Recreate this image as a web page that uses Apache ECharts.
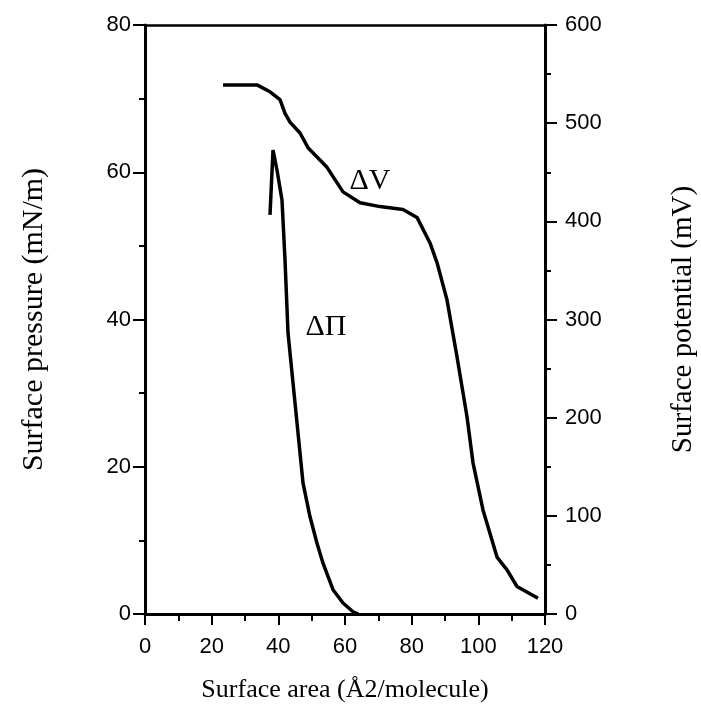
<!DOCTYPE html>
<html>
<head>
<meta charset="utf-8">
<script src="https://cdn.jsdelivr.net/npm/echarts@6/dist/echarts.min.js"></script>
<style>
  html, body { margin: 0; padding: 0; background: #fff; }
  #chart { width: 701px; height: 714px; }
</style>
</head>
<body>
<div id="chart"></div>
<script>
// surface potential ΔV (mV, right axis) vs area
var dvArea = [23.4, 33.6, 37.5, 40.5, 42.0, 43.5, 46.5, 48.9, 54.6, 59.4, 64.5, 70.5, 77.4, 81.6, 85.5, 87.6, 90.6, 93.6, 96.6, 98.4, 101.4, 105.6, 108.6, 111.6, 117.9];
var dvValue = [539, 539, 532, 524, 510, 501, 490, 475, 455, 430, 419, 415, 412, 404, 378, 358, 320, 262, 201, 154, 106, 58, 45, 28, 16];

// surface pressure ΔΠ (mN/m, left axis) vs area
var dpArea = [37.5, 38.4, 39.6, 41.1, 42.0, 42.9, 44.4, 45.9, 47.4, 49.5, 51.6, 53.4, 56.4, 59.4, 62.4, 64.0];
var dpValue = [54.2, 63.0, 60.3, 56.2, 48.1, 38.2, 31.4, 24.6, 17.8, 13.2, 9.6, 6.9, 3.3, 1.5, 0.3, 0];

// curve labels: [area, value on that curve's axis]
var dvLabelPos = [67.5, 441];
var dpLabelPos = [54.3, 39];

function pairs(xs, ys) {
    var out = [];
    for (var i = 0; i < xs.length; i++) out.push([xs[i], ys[i]]);
    return out;
}

var sansFont = 'Liberation Sans';
var serifFont = 'Liberation Serif';
var tickLabel = { fontFamily: sansFont, fontSize: 22, color: '#000' };
var tickStyle = { color: '#000', width: 2 };
var chart = echarts.init(document.getElementById('chart'));
chart.setOption({
    animation: false,
    grid: { left: 145, right: 156, top: 25, bottom: 100, outerBoundsMode: 'none' },
    xAxis: [{
        type: 'value', min: 0, max: 120, interval: 20, position: 'bottom',
        name: 'Surface area (Å2/molecule)', nameLocation: 'middle', nameGap: 63,
        nameTextStyle: { fontFamily: serifFont, fontSize: 26, color: '#000' },
        axisLine: { onZero: false, lineStyle: { color: '#000', width: 3 } },
        axisTick: { inside: false, length: 11, lineStyle: tickStyle },
        minorTick: { show: true, splitNumber: 2, length: 7, lineStyle: tickStyle },
        axisLabel: Object.assign({ margin: 22 }, tickLabel),
        splitLine: { show: false }
    }, {
        type: 'value', min: 0, max: 120, position: 'top',
        axisLine: { onZero: false, lineStyle: { color: '#000', width: 2.5 } },
        axisTick: { show: false }, axisLabel: { show: false }, splitLine: { show: false }
    }],
    yAxis: [{
        type: 'value', min: 0, max: 80, interval: 20, position: 'left',
        name: 'Surface pressure (mN/m)', nameLocation: 'middle', nameGap: 96, nameRotate: 90,
        nameTextStyle: { fontFamily: serifFont, fontSize: 30, color: '#000' },
        axisLine: { show: true, onZero: false, lineStyle: { color: '#000', width: 3 } },
        axisTick: { show: true, inside: false, length: 12, lineStyle: tickStyle },
        minorTick: { show: true, splitNumber: 2, length: 6, lineStyle: tickStyle },
        axisLabel: Object.assign({ margin: 14 }, tickLabel),
        splitLine: { show: false }
    }, {
        type: 'value', min: 0, max: 600, interval: 100, position: 'right',
        name: 'Surface potential (mV)', nameLocation: 'middle', nameGap: 124, nameRotate: 90,
        nameTextStyle: { fontFamily: serifFont, fontSize: 29, color: '#000' },
        axisLine: { show: true, onZero: false, lineStyle: { color: '#000', width: 3 } },
        axisTick: { show: true, inside: false, length: 12, lineStyle: tickStyle },
        minorTick: { show: true, splitNumber: 2, length: 6, lineStyle: tickStyle },
        axisLabel: Object.assign({ margin: 20 }, tickLabel),
        splitLine: { show: false }
    }],
    series: [{
        name: 'ΔV', type: 'line', xAxisIndex: 0, yAxisIndex: 1,
        data: pairs(dvArea, dvValue), showSymbol: false, symbol: 'none',
        lineStyle: { color: '#000', width: 3.5 }
    }, {
        name: 'ΔΠ', type: 'line', xAxisIndex: 0, yAxisIndex: 0,
        data: pairs(dpArea, dpValue), showSymbol: false, symbol: 'none',
        lineStyle: { color: '#000', width: 3.5 }
    }, {
        type: 'scatter', xAxisIndex: 0, yAxisIndex: 1, symbolSize: 0,
        data: [dvLabelPos], silent: true, itemStyle: { opacity: 1 },
        label: { show: true, position: 'inside', formatter: 'ΔV', fontFamily: serifFont, fontSize: 30, color: '#000', opacity: 1 }
    }, {
        type: 'scatter', xAxisIndex: 0, yAxisIndex: 0, symbolSize: 0,
        data: [dpLabelPos], silent: true, itemStyle: { opacity: 1 },
        label: { show: true, position: 'inside', formatter: 'ΔΠ', fontFamily: serifFont, fontSize: 30, color: '#000', opacity: 1 }
    }]
});
</script>
</body>
</html>
